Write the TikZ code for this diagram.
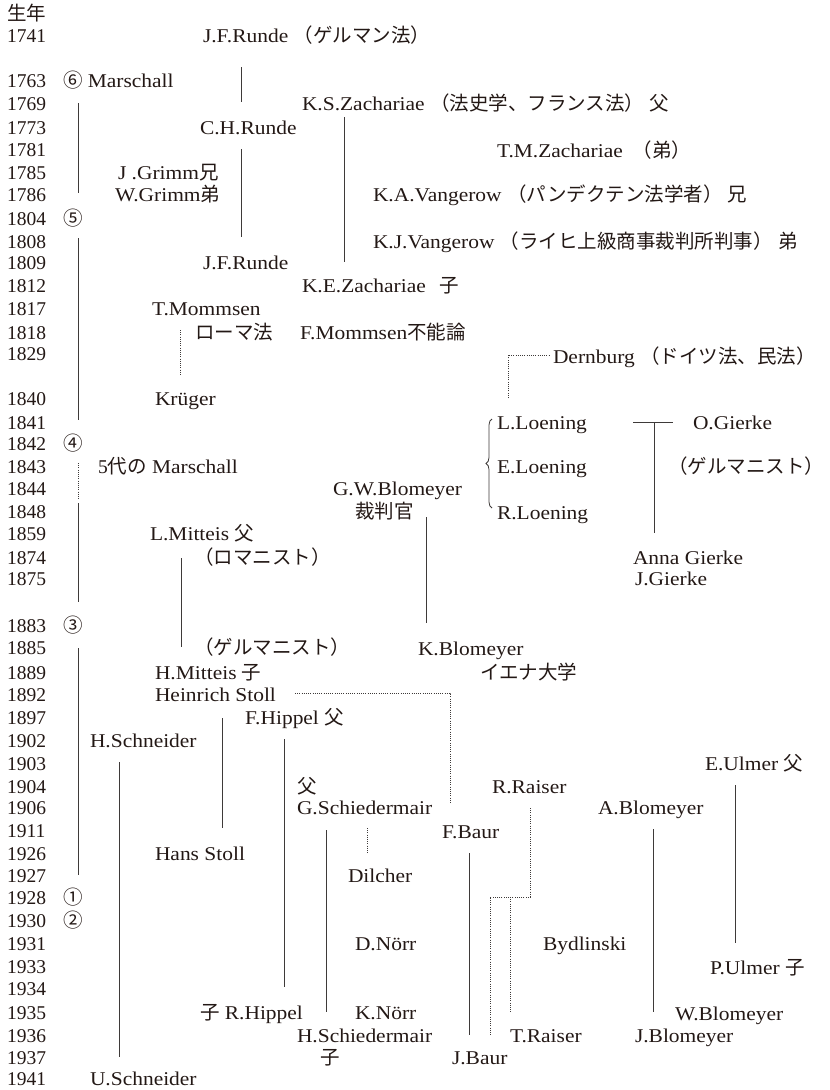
\documentclass[tikz,border=0pt]{standalone}
\usepackage{fontspec}
\setmainfont{Liberation Serif}[FakeStretch=1.1]
\newfontfamily\yearf{Liberation Serif}
\newfontfamily\jpf{Noto Sans CJK JP}
\usetikzlibrary{decorations.pathreplacing}
\definecolor{ink}{HTML}{231815}
\definecolor{rulec}{HTML}{3E3A39}
\newcommand\J[1]{{\jpf #1}}
\begin{document}
\begin{tikzpicture}[x=1pt,y=-1pt,
  t/.style={anchor=base west,inner sep=0pt,outer sep=0pt,text=ink,font=\fontsize{19.5}{20}\selectfont},
  yr/.style={t,font=\fontsize{19.5}{20}\selectfont\yearf},
  ln/.style={draw=rulec,line width=0.9pt},
  dl/.style={draw=rulec,line width=0.8pt,dash pattern=on 1pt off 1.2pt}]
\useasboundingbox (0,0) rectangle (830,1090);
% year column
\node[t] (head) at (7,20) {\J{生年}};
\foreach \yy/\c in {1741/35,1763/80,1769/103,1773/127,1781/149,1785/172,1786/194,1804/218,1808/241,1809/262,1812/285,1817/308,1818/332,1829/353,1840/398,1841/422,1842/443,1843/466,1844/488,1848/511,1859/533,1874/557,1875/578,1883/625,1885/647,1889/672,1892/694,1897/717,1902/740,1903/763,1904/786,1906/807,1911/830,1926/853,1927/875,1928/897,1930/920,1931/943,1933/966,1934/988,1935/1012,1936/1035,1937/1057,1941/1078}
  \node[yr] (y\yy) at (7,\c+7) {\yy};
% Marschall column
\node[t] (c6) at (63,87) {\J{⑥} Marschall};
\node[t] (c5) at (63,225) {\J{⑤}};
\node[t] (c4) at (63,450) {\J{④}};
\node[t] (m5) at (98,473) {{\yearf 5}\J{代の} Marschall};
\node[t] (c3) at (63,632) {\J{③}};
\node[t] (c1) at (63,904) {\J{①}};
\node[t] (c2) at (63,927) {\J{②}};
% names
\node[t] (rundeA) at (203,42) {J.F.Runde \J{（ゲルマン法）}};
\node[t] (ksz) at (302,110) {K.S.Zachariae \J{（法史学、フランス法）} \J{父}};
\node[t] (chr) at (200,134) {C.H.Runde};
\node[t] (tmz) at (497,157) {T.M.Zachariae\hspace{10pt}\J{（弟）}};
\node[t] (grimmA) at (118,179) {J .Grimm\J{兄}};
\node[t] (grimmB) at (115,201) {W.Grimm\J{弟}};
\node[t] (kav) at (373,201) {K.A.Vangerow \J{（パンデクテン法学者）} \J{兄}};
\node[t] (kjv) at (373,248) {K.J.Vangerow \J{（ライヒ上級商事裁判所判事）} \J{弟}};
\node[t] (rundeB) at (203,269) {J.F.Runde};
\node[t] (kez) at (302,292) {K.E.Zachariae\hspace{14pt}\J{子}};
\node[t] (tmom) at (152,315) {T.Mommsen};
\node[t] (roma) at (195,339) {\J{ローマ法}};
\node[t] (fmom) at (300,339) {F.Mommsen\J{不能論}};
\node[t] (dern) at (553,363) {Dernburg \J{（ドイツ法、民法）}};
\node[t] (kru) at (155,405) {Krüger};
\node[t] (lloe) at (497,429) {L.Loening};
\node[t] (ogi) at (693,429) {O.Gierke};
\node[t] (eloe) at (497,473) {E.Loening};
\node[t] (germA) at (668,473) {\J{（ゲルマニスト）}};
\node[t] (gwb) at (333,495) {G.W.Blomeyer};
\node[t] (saiban) at (355,518) {\J{裁判官}};
\node[t] (rloe) at (497,519) {R.Loening};
\node[t] (lmit) at (150,540) {L.Mitteis \J{父}};
\node[t] (roman) at (194,564) {\J{（ロマニスト）}};
\node[t] (agi) at (633,564) {Anna Gierke};
\node[t] (jgi) at (635,585) {J.Gierke};
\node[t] (germB) at (194,654) {\J{（ゲルマニスト）}};
\node[t] (kblo) at (418,655) {K.Blomeyer};
\node[t] (hmit) at (155,679) {H.Mitteis \J{子}};
\node[t] (iena) at (480,679) {\J{イエナ大学}};
\node[t] (hsto) at (155,701) {Heinrich Stoll};
\node[t] (fhip) at (245,724) {F.Hippel \J{父}};
\node[t] (hsch) at (90,747) {H.Schneider};
\node[t] (eul) at (705,770) {E.Ulmer \J{父}};
\node[t] (chichi) at (297,793) {\J{父}};
\node[t] (rrai) at (492,793) {R.Raiser};
\node[t] (gsch) at (297,814) {G.Schiedermair};
\node[t] (ablo) at (598,814) {A.Blomeyer};
\node[t] (fbaur) at (442,838) {F.Baur};
\node[t] (hansst) at (155,860) {Hans Stoll};
\node[t] (dil) at (348,882) {Dilcher};
\node[t] (dnorr) at (355,950) {D.Nörr};
\node[t] (bydl) at (543,950) {Bydlinski};
\node[t] (pul) at (710,974) {P.Ulmer \J{子}};
\node[t] (rhip) at (200,1019) {\J{子} R.Hippel};
\node[t] (knorr) at (355,1019) {K.Nörr};
\node[t] (wblo) at (675,1020) {W.Blomeyer};
\node[t] (hschied) at (297,1042) {H.Schiedermair};
\node[t] (trai) at (510,1042) {T.Raiser};
\node[t] (jblo) at (635,1042) {J.Blomeyer};
\node[t] (ko) at (320,1064) {\J{子}};
\node[t] (jbaur) at (452,1064) {J.Baur};
\node[t] (usch) at (90,1085) {U.Schneider};
% connector end points
\coordinate (mA1) at (78,103); \coordinate (mA2) at (78,193);
\coordinate (mB1) at (78,238); \coordinate (mB2) at (78,420);
\coordinate (mC1) at (78,463); \coordinate (mC2) at (78,500);
\coordinate (mD1) at (78,503); \coordinate (mD2) at (78,602);
\coordinate (mE1) at (78,648); \coordinate (mE2) at (78,875);
\coordinate (rA1) at (241,67); \coordinate (rA2) at (241,102);
\coordinate (rB1) at (241,149); \coordinate (rB2) at (241,237);
\coordinate (z1) at (344,117); \coordinate (z2) at (344,262);
\coordinate (mo1) at (180,330); \coordinate (mo2) at (180,375);
\coordinate (d1) at (508,398); \coordinate (d2) at (508,355); \coordinate (d3) at (550,355);
\coordinate (br1) at (492,508); \coordinate (br2) at (492,419);
\coordinate (g1) at (633,422); \coordinate (g2) at (673,422);
\coordinate (g3) at (654,422); \coordinate (g4) at (654,533);
\coordinate (b1) at (426,517); \coordinate (b2) at (426,623);
\coordinate (mi1) at (181,558); \coordinate (mi2) at (181,647);
\coordinate (s1) at (295,693); \coordinate (s2) at (450,693); \coordinate (s3) at (450,803);
\coordinate (st1) at (222,718); \coordinate (st2) at (222,828);
\coordinate (h1) at (284,739); \coordinate (h2) at (284,987);
\coordinate (sc1) at (119,762); \coordinate (sc2) at (119,1057);
\coordinate (u1) at (735,785); \coordinate (u2) at (735,943);
\coordinate (sm1) at (326,830); \coordinate (sm2) at (326,1012);
\coordinate (di1) at (367,828); \coordinate (di2) at (367,853);
\coordinate (ba1) at (469,853); \coordinate (ba2) at (469,1035);
\coordinate (ra1) at (530,808); \coordinate (ra2) at (530,897);
\coordinate (ra3) at (490,897); \coordinate (ra4) at (490,1035);
\coordinate (ra5) at (510,897); \coordinate (ra6) at (510,1012);
\coordinate (ab1) at (653,829); \coordinate (ab2) at (653,1012);
% connectors
\draw[ln] (mA1) -- (mA2);
\draw[ln] (mB1) -- (mB2);
\draw[dl] (mC1) -- (mC2);
\draw[ln] (mD1) -- (mD2);
\draw[ln] (mE1) -- (mE2);
\draw[ln] (rA1) -- (rA2);
\draw[ln] (rB1) -- (rB2);
\draw[ln] (z1) -- (z2);
\draw[dl] (mo1) -- (mo2);
\draw[dl] (d1) -- (d2) -- (d3);
\draw[draw=rulec,line width=0.8pt,decorate,decoration={brace,amplitude=6pt}] (br1) -- (br2);
\draw[ln] (g1) -- (g2);
\draw[ln] (g3) -- (g4);
\draw[ln] (b1) -- (b2);
\draw[ln] (mi1) -- (mi2);
\draw[dl] (s1) -- (s2) -- (s3);
\draw[ln] (st1) -- (st2);
\draw[ln] (h1) -- (h2);
\draw[ln] (sc1) -- (sc2);
\draw[ln] (u1) -- (u2);
\draw[ln] (sm1) -- (sm2);
\draw[dl] (di1) -- (di2);
\draw[ln] (ba1) -- (ba2);
\draw[dl] (ra1) -- (ra2) -- (ra3) -- (ra4);
\draw[dl] (ra5) -- (ra6);
\draw[ln] (ab1) -- (ab2);
\end{tikzpicture}
\end{document}
